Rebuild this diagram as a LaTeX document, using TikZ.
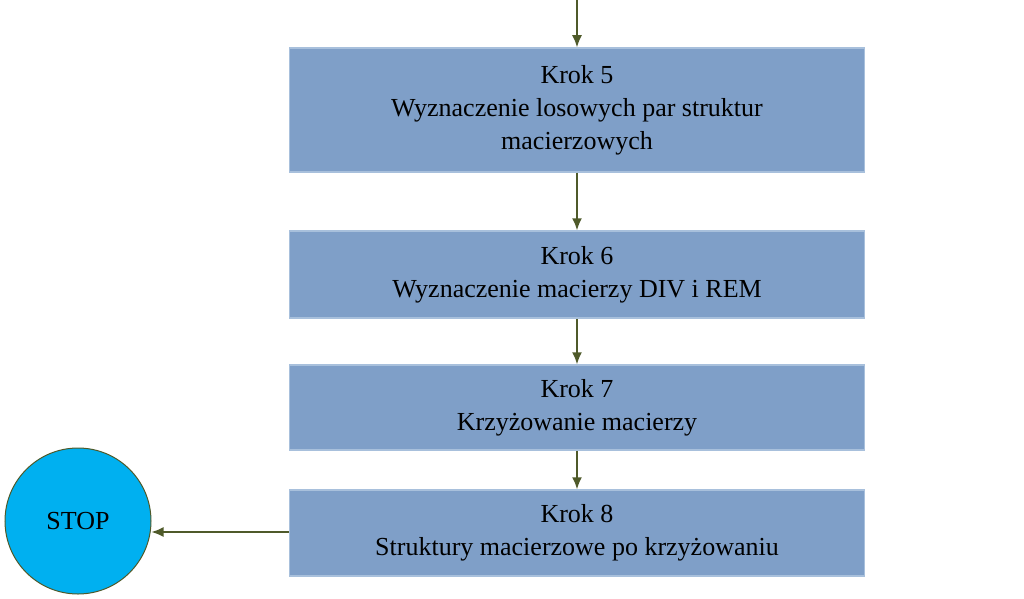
\documentclass[tikz,border=0pt]{standalone}
\usepackage{fontspec}
\setmainfont{Liberation Serif}
\usetikzlibrary{arrows.meta}
\definecolor{boxfill}{HTML}{7F9FC8}
\definecolor{boxline}{HTML}{A8C0DC}
\definecolor{circfill}{HTML}{00B0F0}
\definecolor{arr}{HTML}{4F5A2A}
\begin{document}
\begin{tikzpicture}[x=1pt,y=1pt,
  stepbox/.style={draw=boxline,line width=1.5pt,fill=boxfill,minimum width=575pt,align=center,font=\fontsize{26}{33}\selectfont,inner sep=0pt},
  conn/.style={draw=arr,line width=1.5pt,-{Latex[length=12pt,width=10pt]}}]
\useasboundingbox (0,0) rectangle (1024,598);
\coordinate (top) at (577,598);
\node[stepbox,minimum height=124pt] (b5) at (577,488) {Krok 5\\Wyznaczenie losowych par struktur\\macierzowych};
\node[stepbox,minimum height=87pt] (b6) at (577,323.5) {Krok 6\\Wyznaczenie macierzy DIV i REM};
\node[stepbox,minimum height=85pt] (b7) at (577,190.5) {Krok 7\\Krzyżowanie macierzy};
\node[stepbox,minimum height=86pt] (b8) at (577,65) {Krok 8\\Struktury macierzowe po krzyżowaniu};
\node[circle,draw=arr,line width=1pt,fill=circfill,minimum size=146pt,font=\fontsize{26}{30}\selectfont,inner sep=0pt] (stop) at (78,77) {STOP};
\draw[conn] (top) -- (b5.north);
\draw[conn] (b5) -- (b6);
\draw[conn] (b6) -- (b7);
\draw[conn] (b7) -- (b8);
\draw[conn] (b8.west |- 0,66) -- (stop.east |- 0,66);
\end{tikzpicture}
\end{document}
